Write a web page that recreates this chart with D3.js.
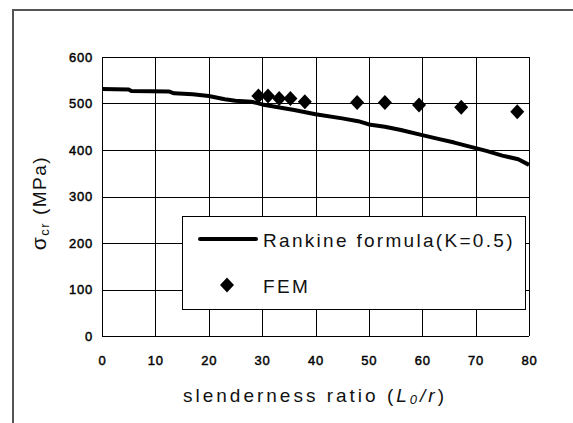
<!DOCTYPE html>
<html>
<head>
<meta charset="utf-8">
<script src="https://cdn.jsdelivr.net/npm/d3@7"></script>
<style>
  body { margin: 0; background: #fff; }
  svg { display: block; }
</style>
</head>
<body>
<svg id="chart" width="573" height="423"></svg>
<script>
// Rankine formula curve (K=0.5)
const rankineX = [0, 5, 5.5, 12.5, 13.5, 17, 20, 23, 25, 28, 30, 33, 36, 40, 45, 48, 50, 53, 56, 60, 63, 66, 68, 70, 72, 75, 78, 80];
const rankineY = [531, 530, 527, 526, 522, 520, 516, 509, 506, 504, 498, 492, 486, 477, 468, 462, 455, 450, 443, 432, 424, 416, 410, 404, 398, 388, 380, 368];

// FEM results
const femX = [29.3, 31.1, 33.2, 35.3, 38.0, 47.8, 53.0, 59.4, 67.3, 77.8];
const femY = [516, 516, 511, 511, 504, 502, 502, 497, 492, 482];

const xTicks = [0, 10, 20, 30, 40, 50, 60, 70, 80];
const yTicks = [0, 100, 200, 300, 400, 500, 600];

const svg = d3.select("#chart");
const font = "'Liberation Sans', Arial, sans-serif";

// outer frame (cut at right and bottom)
svg.append("path")
  .attr("d", "M13,423 V10 H573")
  .attr("fill", "none")
  .attr("stroke", "#555")
  .attr("stroke-width", 2);

const plotL = 102, plotR = 529, plotT = 57, plotB = 336;

const x = d3.scaleLinear().domain([0, 80]).range([plotL, plotR]);
const y = d3.scaleLinear().domain([0, 600]).range([plotB, plotT]);

// grid
const grid = svg.append("g").attr("stroke", "#000").attr("stroke-width", 1);
grid.selectAll(".vx").data(xTicks).enter().append("line")
  .attr("x1", d => Math.round(x(d)) + 0.5).attr("x2", d => Math.round(x(d)) + 0.5)
  .attr("y1", plotT).attr("y2", plotB);
grid.selectAll(".hy").data(yTicks).enter().append("line")
  .attr("y1", d => Math.round(y(d)) + 0.5).attr("y2", d => Math.round(y(d)) + 0.5)
  .attr("x1", plotL).attr("x2", plotR);

// axes (labels only, lines come from the grid)
const xAxis = svg.append("g")
  .attr("transform", `translate(0,${plotB + 24})`)
  .call(d3.axisBottom(x).tickValues(xTicks).tickSize(0).tickPadding(0));
xAxis.select(".domain").remove();

const yAxis = svg.append("g")
  .attr("transform", `translate(${plotL - 9},0)`)
  .call(d3.axisLeft(y).tickValues(yTicks).tickSize(0).tickPadding(0));
yAxis.select(".domain").remove();

svg.selectAll(".tick text")
  .attr("font-family", font)
  .attr("font-size", 13)
  .attr("letter-spacing", 0.8)
  .attr("fill", "#000")
  .attr("stroke", "#000")
  .attr("stroke-width", 0.45);
xAxis.selectAll(".tick text").attr("dy", "0.35em").attr("y", 0);

// Rankine line
svg.append("path")
  .datum(rankineX.map((v, i) => [v, rankineY[i]]))
  .attr("d", d3.line().x(d => x(d[0])).y(d => y(d[1])))
  .attr("fill", "none")
  .attr("stroke", "#000")
  .attr("stroke-width", 4)
  .attr("stroke-linejoin", "round");

// FEM diamonds
const diamond = "M0,-7.5 L7,0 L0,7.5 L-7,0 Z";
svg.append("g").selectAll("path")
  .data(femX.map((v, i) => [v, femY[i]]))
  .enter().append("path")
  .attr("d", diamond)
  .attr("transform", d => `translate(${x(d[0])},${y(d[1])})`)
  .attr("fill", "#000");

// legend
svg.append("rect")
  .attr("x", 182.5).attr("y", 216.5)
  .attr("width", 343).attr("height", 93)
  .attr("fill", "#fff").attr("stroke", "#000");
svg.append("line")
  .attr("x1", 200).attr("x2", 256).attr("y1", 239).attr("y2", 239)
  .attr("stroke", "#000").attr("stroke-width", 4).attr("stroke-linecap", "round");
svg.append("path")
  .attr("d", diamond)
  .attr("transform", "translate(227,285)")
  .attr("fill", "#000");
svg.append("text")
  .attr("x", 263).attr("y", 247)
  .attr("font-family", font).attr("font-size", 19)
  .attr("letter-spacing", 2.3)
  .attr("fill", "#111")
  .text("Rankine formula(K=0.5)");
svg.append("text")
  .attr("x", 263).attr("y", 293)
  .attr("font-family", font).attr("font-size", 19)
  .attr("letter-spacing", 2.3)
  .attr("fill", "#111")
  .text("FEM");

// x title
const xt = svg.append("text")
  .attr("x", 315).attr("y", 402)
  .attr("text-anchor", "middle")
  .attr("font-family", font).attr("font-size", 19)
  .attr("letter-spacing", 3)
  .attr("fill", "#111");
xt.append("tspan").text("slenderness ratio (");
xt.append("tspan").attr("font-style", "italic").text("L");
xt.append("tspan").attr("font-style", "italic").attr("font-size", 13).attr("dy", 2).text("0");
xt.append("tspan").attr("font-style", "italic").attr("dy", -2).text("/r");
xt.append("tspan").text(")");

// y title
const yt = svg.append("text")
  .attr("transform", "translate(46,203) rotate(-90)")
  .attr("text-anchor", "middle")
  .attr("font-family", font).attr("font-size", 19)
  .attr("letter-spacing", 1.5)
  .attr("fill", "#111");
yt.append("tspan").attr("font-size", 21).text("σ");
yt.append("tspan").attr("font-size", 13).attr("dy", 3).text("cr");
yt.append("tspan").attr("dy", -3).text(" (MPa)");
</script>
</body>
</html>
